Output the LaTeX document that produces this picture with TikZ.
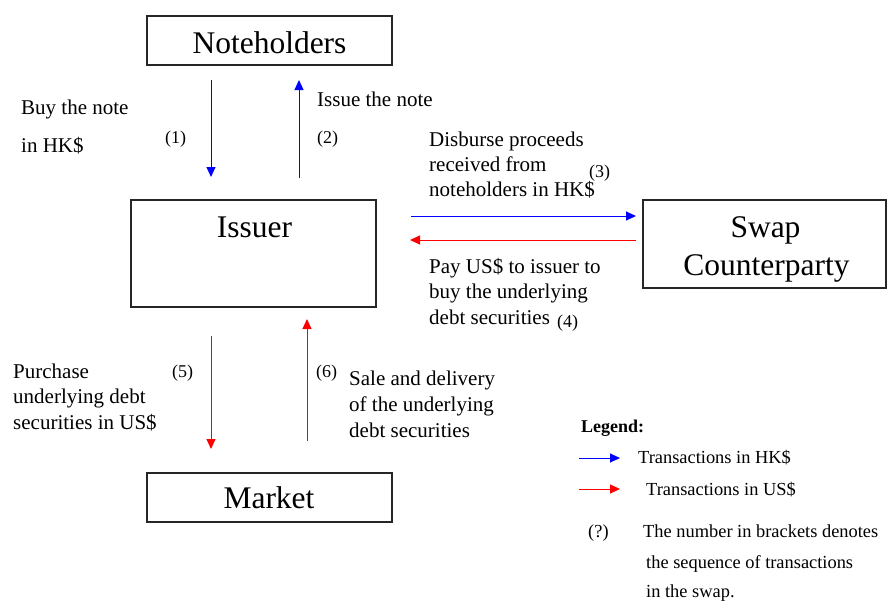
\documentclass[tikz,border=0pt]{standalone}
\usepackage{fontspec}
\setmainfont{Liberation Serif}
\usetikzlibrary{arrows.meta}
\begin{document}
\begin{tikzpicture}[x=1pt,y=-1pt,
  box/.style={draw=black!85, line width=1.1pt, minimum width=245pt, minimum height=49pt, inner sep=0pt},
  title/.style={anchor=base, font=\fontsize{31.5}{36}\selectfont, inner sep=0pt},
  lbl/.style={anchor=base west, font=\fontsize{21}{25}\selectfont, inner sep=0pt},
  num/.style={anchor=base west, font=\fontsize{18}{21}\selectfont, inner sep=0pt},
  leg/.style={anchor=base west, font=\fontsize{18.4}{21}\selectfont, inner sep=0pt},
  flow/.style={line width=1pt, -{Triangle[length=10pt,width=9pt]}},
  hk/.style={flow, color=blue},
  us/.style={flow, color=red}]
\useasboundingbox (0,0) rectangle (887,605);

% boxes
\node[box] (note) at (269.5,40.5) {};
\node[box, minimum height=107pt] (issuer) at (253.5,253.5) {};
\node[box, minimum width=243pt, minimum height=88pt] (swap) at (764.5,244) {};
\node[box] (market) at (269.5,497.5) {};

\node[title] (tnote) at (269.5,53) {Noteholders};
\node[title] (tissuer) at (254.5,237) {Issuer};
\node[title] (tswap1) at (765.5,237) {Swap};
\node[title] (tswap2) at (766.5,275) {Counterparty};
\node[title] (tmarket) at (269,508) {Market};

% arrow end points
\coordinate (a1s) at (211,80);  \coordinate (a1e) at (211,177);
\coordinate (a2s) at (299,178); \coordinate (a2e) at (299,80);
\coordinate (a3s) at (411,216); \coordinate (a3e) at (636,216);
\coordinate (a4s) at (636,240); \coordinate (a4e) at (410,240);
\coordinate (a5s) at (211,336); \coordinate (a5e) at (211,449);
\coordinate (a6s) at (307,441); \coordinate (a6e) at (307,319);

\draw[hk] (a1s) -- (a1e);
\draw[hk] (a2s) -- (a2e);
\draw[hk] (a3s) -- (a3e);
\draw[us] (a4s) -- (a4e);
\draw[us] (a5s) -- (a5e);
\draw[us] (a6s) -- (a6e);

% labels
\node[lbl] (l1a) at (21,114) {Buy the note};
\node[lbl] (l1b) at (21,152) {in HK\$};
\node[num] (n1) at (165,143) {(1)};

\node[lbl] (l2) at (317,106) {Issue the note};
\node[num] (n2) at (317,143) {(2)};

\node[lbl] (l3a) at (429,146) {Disburse proceeds};
\node[lbl] (l3b) at (429,171) {received from};
\node[lbl] (l3c) at (429,196) {noteholders in HK\$};
\node[num] (n3) at (589,177) {(3)};

\node[lbl] (l4a) at (429,273) {Pay US\$ to issuer to};
\node[lbl] (l4b) at (429,298) {buy the underlying};
\node[lbl] (l4c) at (429,324) {debt securities};
\node[num] (n4) at (557,327) {(4)};

\node[lbl] (l5a) at (13,378) {Purchase};
\node[lbl] (l5b) at (13,403) {underlying debt};
\node[lbl] (l5c) at (13,429) {securities in US\$};
\node[num] (n5) at (172,377) {(5)};

\node[num] (n6) at (316,377) {(6)};
\node[lbl] (l6a) at (349,385) {Sale and delivery};
\node[lbl] (l6b) at (349,411) {of the underlying};
\node[lbl] (l6c) at (349,437) {debt securities};

% legend
\node[leg, font=\fontsize{18}{21}\selectfont\bfseries] (legend) at (581,432) {Legend:};
\coordinate (lb1) at (579,458); \coordinate (lb2) at (620,458);
\coordinate (lr1) at (579,489); \coordinate (lr2) at (620,489);
\draw[hk] (lb1) -- (lb2);
\draw[us] (lr1) -- (lr2);
\node[leg] (leghk) at (638,463) {Transactions in HK\$};
\node[leg] (legus) at (646,495) {Transactions in US\$};
\node[leg] (legq) at (588,537) {(?)};
\node[leg] (legt1) at (643,537) {The number in brackets denotes};
\node[leg] (legt2) at (646,568) {the sequence of transactions};
\node[leg] (legt3) at (646,597) {in the swap.};
\end{tikzpicture}
\end{document}
